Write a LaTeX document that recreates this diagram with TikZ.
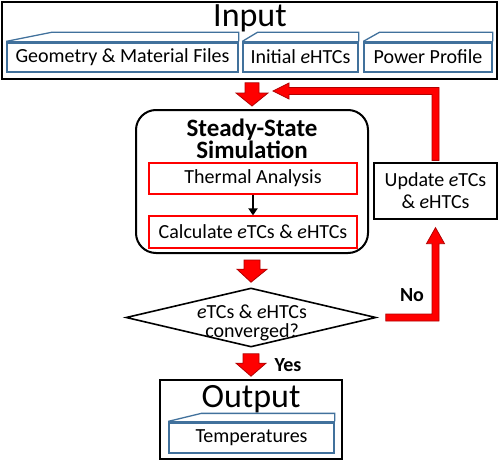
\documentclass[tikz,border=0pt]{standalone}
\usepackage{fontspec}
\setmainfont{Carlito}
\usetikzlibrary{shapes.geometric,arrows.meta,calc}
\definecolor{fblue}{HTML}{41719C}
\definecolor{ared}{HTML}{FF0000}
\definecolor{adark}{HTML}{B00000}
\begin{document}
\begin{tikzpicture}[x=1pt,y=-1pt,
  box/.style={draw=black,line width=1.6pt,inner sep=0pt,fill=white},
  folderbody/.style={draw=fblue,line width=1.3pt,inner sep=0pt,font=\fontsize{20}{22}\selectfont},
  foldertab/.style={draw=fblue,line width=1.3pt},
  redbox/.style={draw=ared,line width=1.2pt,inner sep=0pt,font=\fontsize{20}{22}\selectfont},
  blockarrow/.style={fill=ared,draw=adark,line width=0.8pt,line join=miter},
  bigtitle/.style={font=\fontsize{34}{36}\selectfont,inner sep=0pt,anchor=base},
  lbl/.style={font=\bfseries\fontsize{20}{22}\selectfont,inner sep=0pt}
]
\useasboundingbox (0,0) rectangle (500,460);

% Input
\node[box,minimum width=495pt,minimum height=77pt] (input) at (249.5,40.5) {};
\node[bigtitle] (inputt) at (250,27) {Input};
\node[folderbody,minimum width=231pt,minimum height=30pt] (geo) at (122.5,57) {Geometry \& Material Files};
\node[folderbody,minimum width=115pt,minimum height=30pt] (ini) at (300.5,57) {Initial \textit{e}HTCs};
\node[folderbody,minimum width=128pt,minimum height=30pt] (pow) at (428,57) {Power Profile};
\foreach \n/\s in {geo/45,ini/15,pow/16}{
  \draw[foldertab,line join=miter] (\n.north west) -- ++(\s,-9) -| (\n.north east);
  \draw[draw=fblue,line width=0.8pt] ($(\n.north west)+(0,2)$) -- ($(\n.north east)+(0,2)$);
}

% Steady-state simulation
\node[box,line width=2pt,rounded corners=20pt,minimum width=232pt,minimum height=143pt] (steady) at (252,181.5) {};
\node[font=\bfseries\fontsize{25}{20}\selectfont,align=center,inner sep=0pt] (steadyt) at (252,139) {Steady-State\\Simulation};
\node[redbox,minimum width=208pt,minimum height=31pt] (therm) at (253,178.5) {Thermal Analysis};
\node[redbox,minimum width=208pt,minimum height=32pt] (calc) at (253,232) {Calculate \textit{e}TCs \& \textit{e}HTCs};
\draw[line width=1.8pt,-{Triangle[width=9pt,length=7pt]}] (therm.south) -- (calc.north);

% Decision
\node[draw=black,line width=1.6pt,diamond,inner sep=0pt,minimum width=250pt,minimum height=59pt] (dia) at (251,317.5) {};
\node[font=\fontsize{20}{19}\selectfont,align=center,inner sep=0pt] (diat) at (252,323) {\textit{e}TCs \& \textit{e}HTCs\\converged?};

% Update
\node[box,line width=1.3pt,minimum width=123pt,minimum height=56pt,align=center,font=\fontsize{20}{22}\selectfont] (upd) at (435.5,191) {Update \textit{e}TCs\\\& \textit{e}HTCs};

% Output
\node[box,minimum width=182pt,minimum height=79pt] (output) at (251,419.5) {};
\node[bigtitle] (outputt) at (251,407) {Output};
\node[folderbody,minimum width=165pt,minimum height=31pt] (temp) at (251.5,437.5) {Temperatures};
\draw[foldertab,line join=miter] (temp.north west) -- ++(33,-8) -| (temp.north east);
\draw[draw=fblue,line width=0.8pt] ($(temp.north west)+(0,2)$) -- ($(temp.north east)+(0,2)$);

% block arrows (down)
\filldraw[blockarrow] let \p1=(steady.north |- input.south), \p2=(steady.north) in
  (\x1-7pt,\y1-3pt) -- (\x1+7pt,\y1-3pt) -- (\x1+7pt,\y2+16pt) -- (\x1+16pt,\y2+16pt)
  -- (\x2,\y2+3pt) -- (\x1-16pt,\y2+16pt) -- (\x1-7pt,\y2+16pt) -- cycle;
\filldraw[blockarrow] let \p1=(steady.south), \p2=(dia.north) in
  (\x1-8pt,\y1-6pt) -- (\x1+8pt,\y1-6pt) -- (\x1+8pt,\y2+18pt) -- (\x1+15pt,\y2+18pt)
  -- (\x2,\y2+5pt) -- (\x1-15pt,\y2+18pt) -- (\x1-8pt,\y2+18pt) -- cycle;
\filldraw[blockarrow] let \p1=(dia.south), \p2=(output.north) in
  (\x1-8pt,\y1-6pt) -- (\x1+8pt,\y1-6pt) -- (\x1+8pt,\y2+16pt) -- (\x1+15pt,\y2+16pt)
  -- (\x2,\y2+3pt) -- (\x1-15pt,\y2+16pt) -- (\x1-8pt,\y2+16pt) -- cycle;

% feedback: No -> update
\filldraw[blockarrow] let \p1=(upd.south), \p2=(dia.east) in
  (\x2+9pt,\y2+3.5pt) -- (\x1-3.5pt,\y2+3.5pt) -- (\x1-3.5pt,\y1-24pt) -- (\x1-9pt,\y1-24pt)
  -- (\x1,\y1-8pt) -- (\x1+9pt,\y1-24pt) -- (\x1+3.5pt,\y1-24pt) -- (\x1+3.5pt,\y2-3.5pt)
  -- (\x2+9pt,\y2-3.5pt) -- cycle;
% feedback: update -> steady
\filldraw[blockarrow] let \p1=(upd.north), \p2=(steady.north) in
  (\x1-3.5pt,\y1+2pt) -- (\x1-3.5pt,\y2+14.5pt) -- (\x2+37pt,\y2+14.5pt) -- (\x2+37pt,\y2+10pt)
  -- (\x2+21pt,\y2+18pt) -- (\x2+37pt,\y2+26pt) -- (\x2+37pt,\y2+21.5pt) -- (\x1+3.5pt,\y2+21.5pt)
  -- (\x1+3.5pt,\y1+2pt) -- cycle;

\node[lbl] (yes) at (288,365) {Yes};
\node[lbl] (no) at (412,295) {No};
\end{tikzpicture}
\end{document}
